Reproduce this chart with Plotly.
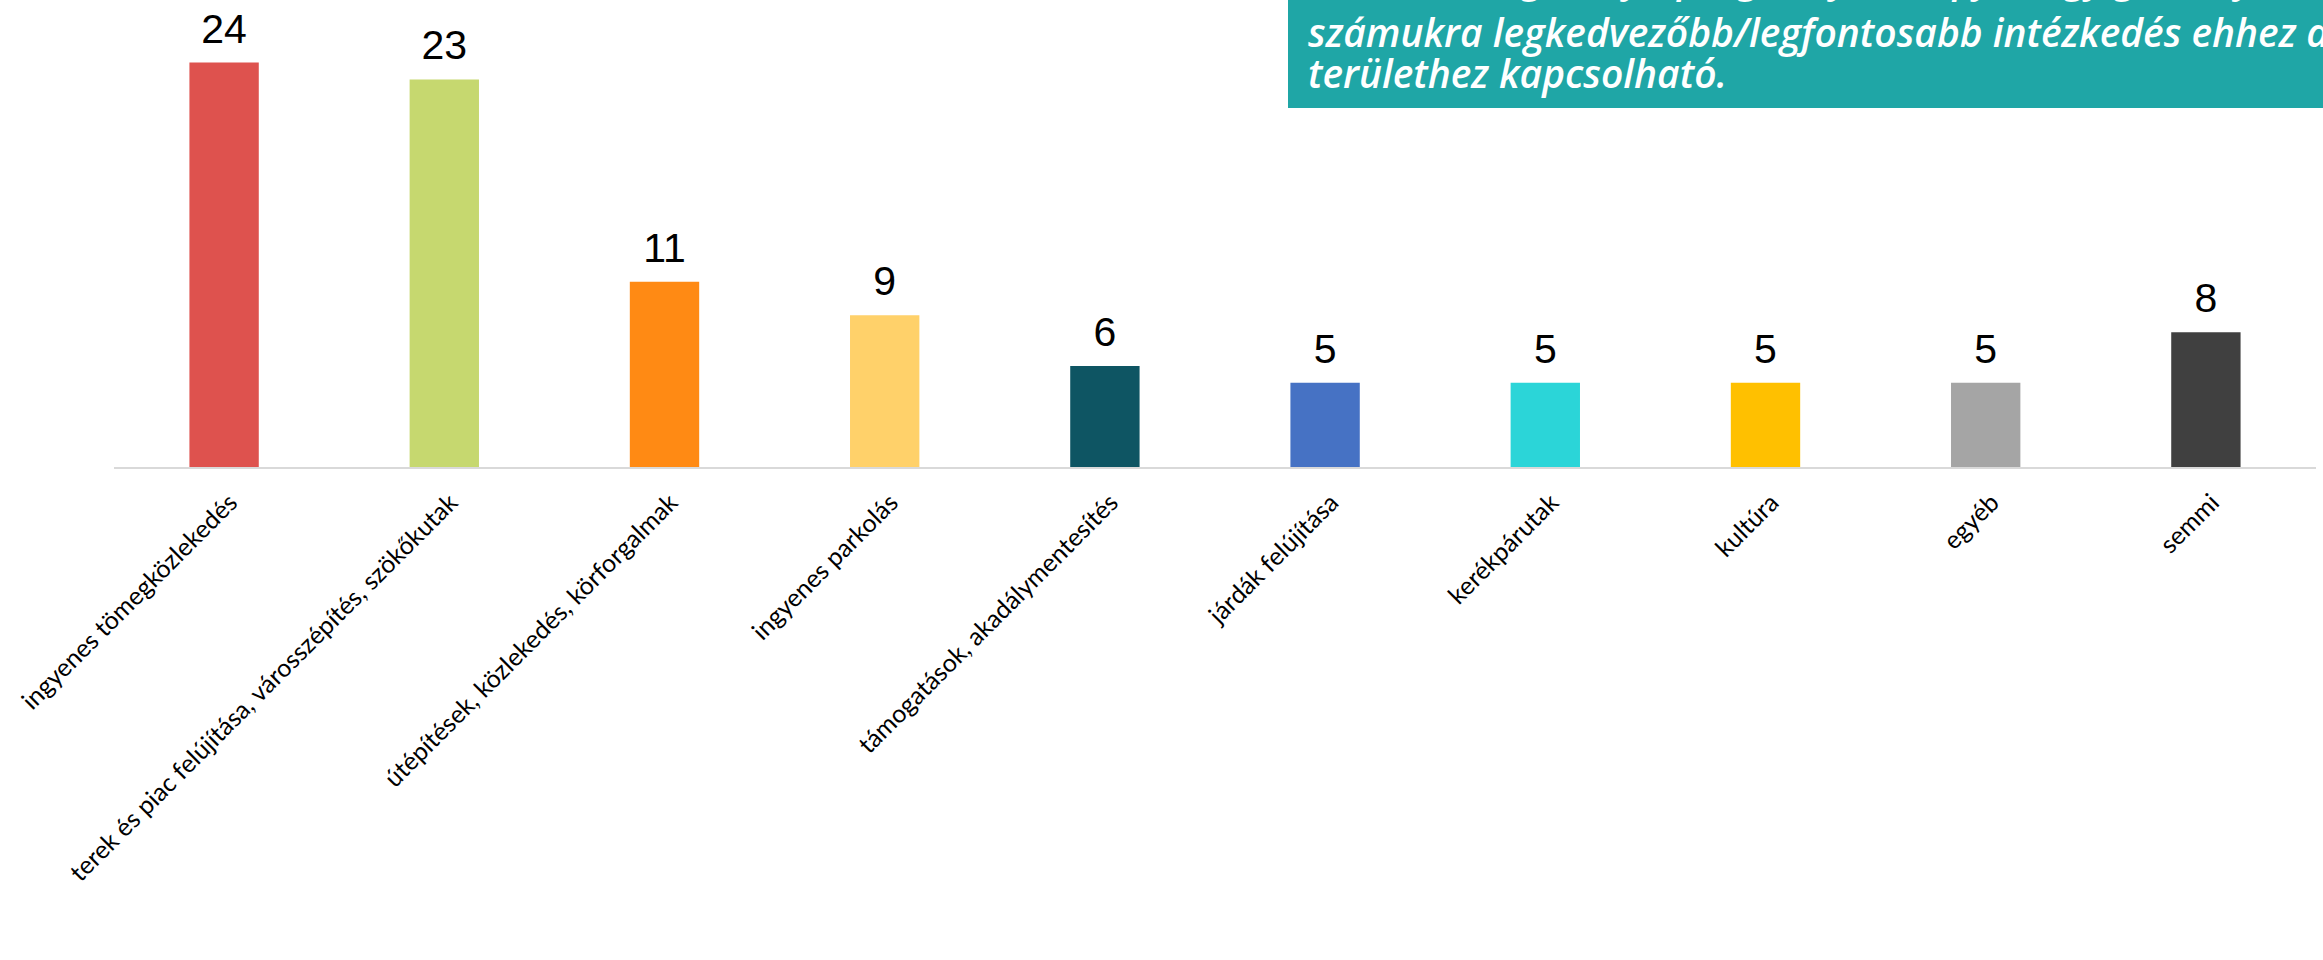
import plotly.graph_objects as go

categories = [
    "ingyenes tömegközlekedés",
    "terek és piac felújítása, városszépítés, szökőkutak",
    "útépítések, közlekedés, körforgalmak",
    "ingyenes parkolás",
    "támogatások, akadálymentesítés",
    "járdák felújítása",
    "kerékpárutak",
    "kultúra",
    "egyéb",
    "semmi",
]
values = [24, 23, 11, 9, 6, 5, 5, 5, 5, 8]
colors = ["#DE524E", "#C6D86F", "#FF8A14", "#FFD16A", "#0E5563",
          "#4672C4", "#2BD5D8", "#FFC000", "#A5A5A5", "#404040"]

box_lines = [
    "A kitöltők legtöbbje, programjuk alapján úgy gondolja, hogy a",
    "számukra legkedvezőbb/legfontosabb intézkedés ehhez a",
    "területhez kapcsolható.",
]

W, H = 2323, 960
L, R, T, B = 114, 7, 0, 493
plot_h = H - T - B
plot_w = W - L - R
px_per_unit = 16.85

xs = list(range(len(categories)))

fig = go.Figure()
fig.add_trace(go.Bar(
    x=xs,
    y=values,
    marker=dict(color=colors, line=dict(width=0)),
    width=0.315,
    hoverinfo="skip",
))
# value labels above the bars
fig.add_trace(go.Scatter(
    x=xs,
    y=values,
    mode="markers+text",
    marker=dict(size=14, color="rgba(0,0,0,0)"),
    text=[str(v) for v in values],
    textposition="top center",
    textfont=dict(family="Liberation Sans, Arial, sans-serif", size=41, color="#000000"),
    cliponaxis=False,
    hoverinfo="skip",
))

fig.update_layout(
    width=W, height=H,
    margin=dict(l=L, r=R, t=T, b=B, pad=0),
    paper_bgcolor="white",
    plot_bgcolor="white",
    showlegend=False,
    xaxis=dict(
        tickmode="array",
        tickvals=xs,
        ticktext=categories,
        tickangle=-45,
        ticklabelstandoff=9,
        ticklabelshift=6,
        range=[-0.5, len(categories) - 0.5],
        showline=True, linecolor="#D9D9D9", linewidth=2,
        showgrid=False, zeroline=False, ticks="",
        tickfont=dict(family="Lato, Open Sans, sans-serif", size=25, color="#000000"),
        fixedrange=True,
    ),
    yaxis=dict(
        range=[0, plot_h / px_per_unit],
        visible=False, showgrid=False, zeroline=False, fixedrange=True,
    ),
)

def px_x(x):
    return (x - L) / plot_w

def px_y(y):
    return (H - B - y) / plot_h

# teal text box
fig.add_shape(type="rect", xref="paper", yref="paper",
              x0=px_x(1288), x1=px_x(2360), y0=px_y(108), y1=px_y(-40),
              fillcolor="#1FA6A6", line=dict(width=0), layer="above")

line_centers = [-24, 32, 72]
for txt, cy in zip(box_lines, line_centers):
    fig.add_annotation(
        xref="paper", yref="paper", x=px_x(1306), y=px_y(cy),
        xanchor="left", yanchor="middle", showarrow=False,
        text="<i>" + txt + "</i>",
        font=dict(family="Open Sans, sans-serif", size=39, color="white", weight=600),
        align="left",
    )

fig.write_html("out.html", config={"displayModeBar": False},
               post_script="document.body.style.margin='0';")
